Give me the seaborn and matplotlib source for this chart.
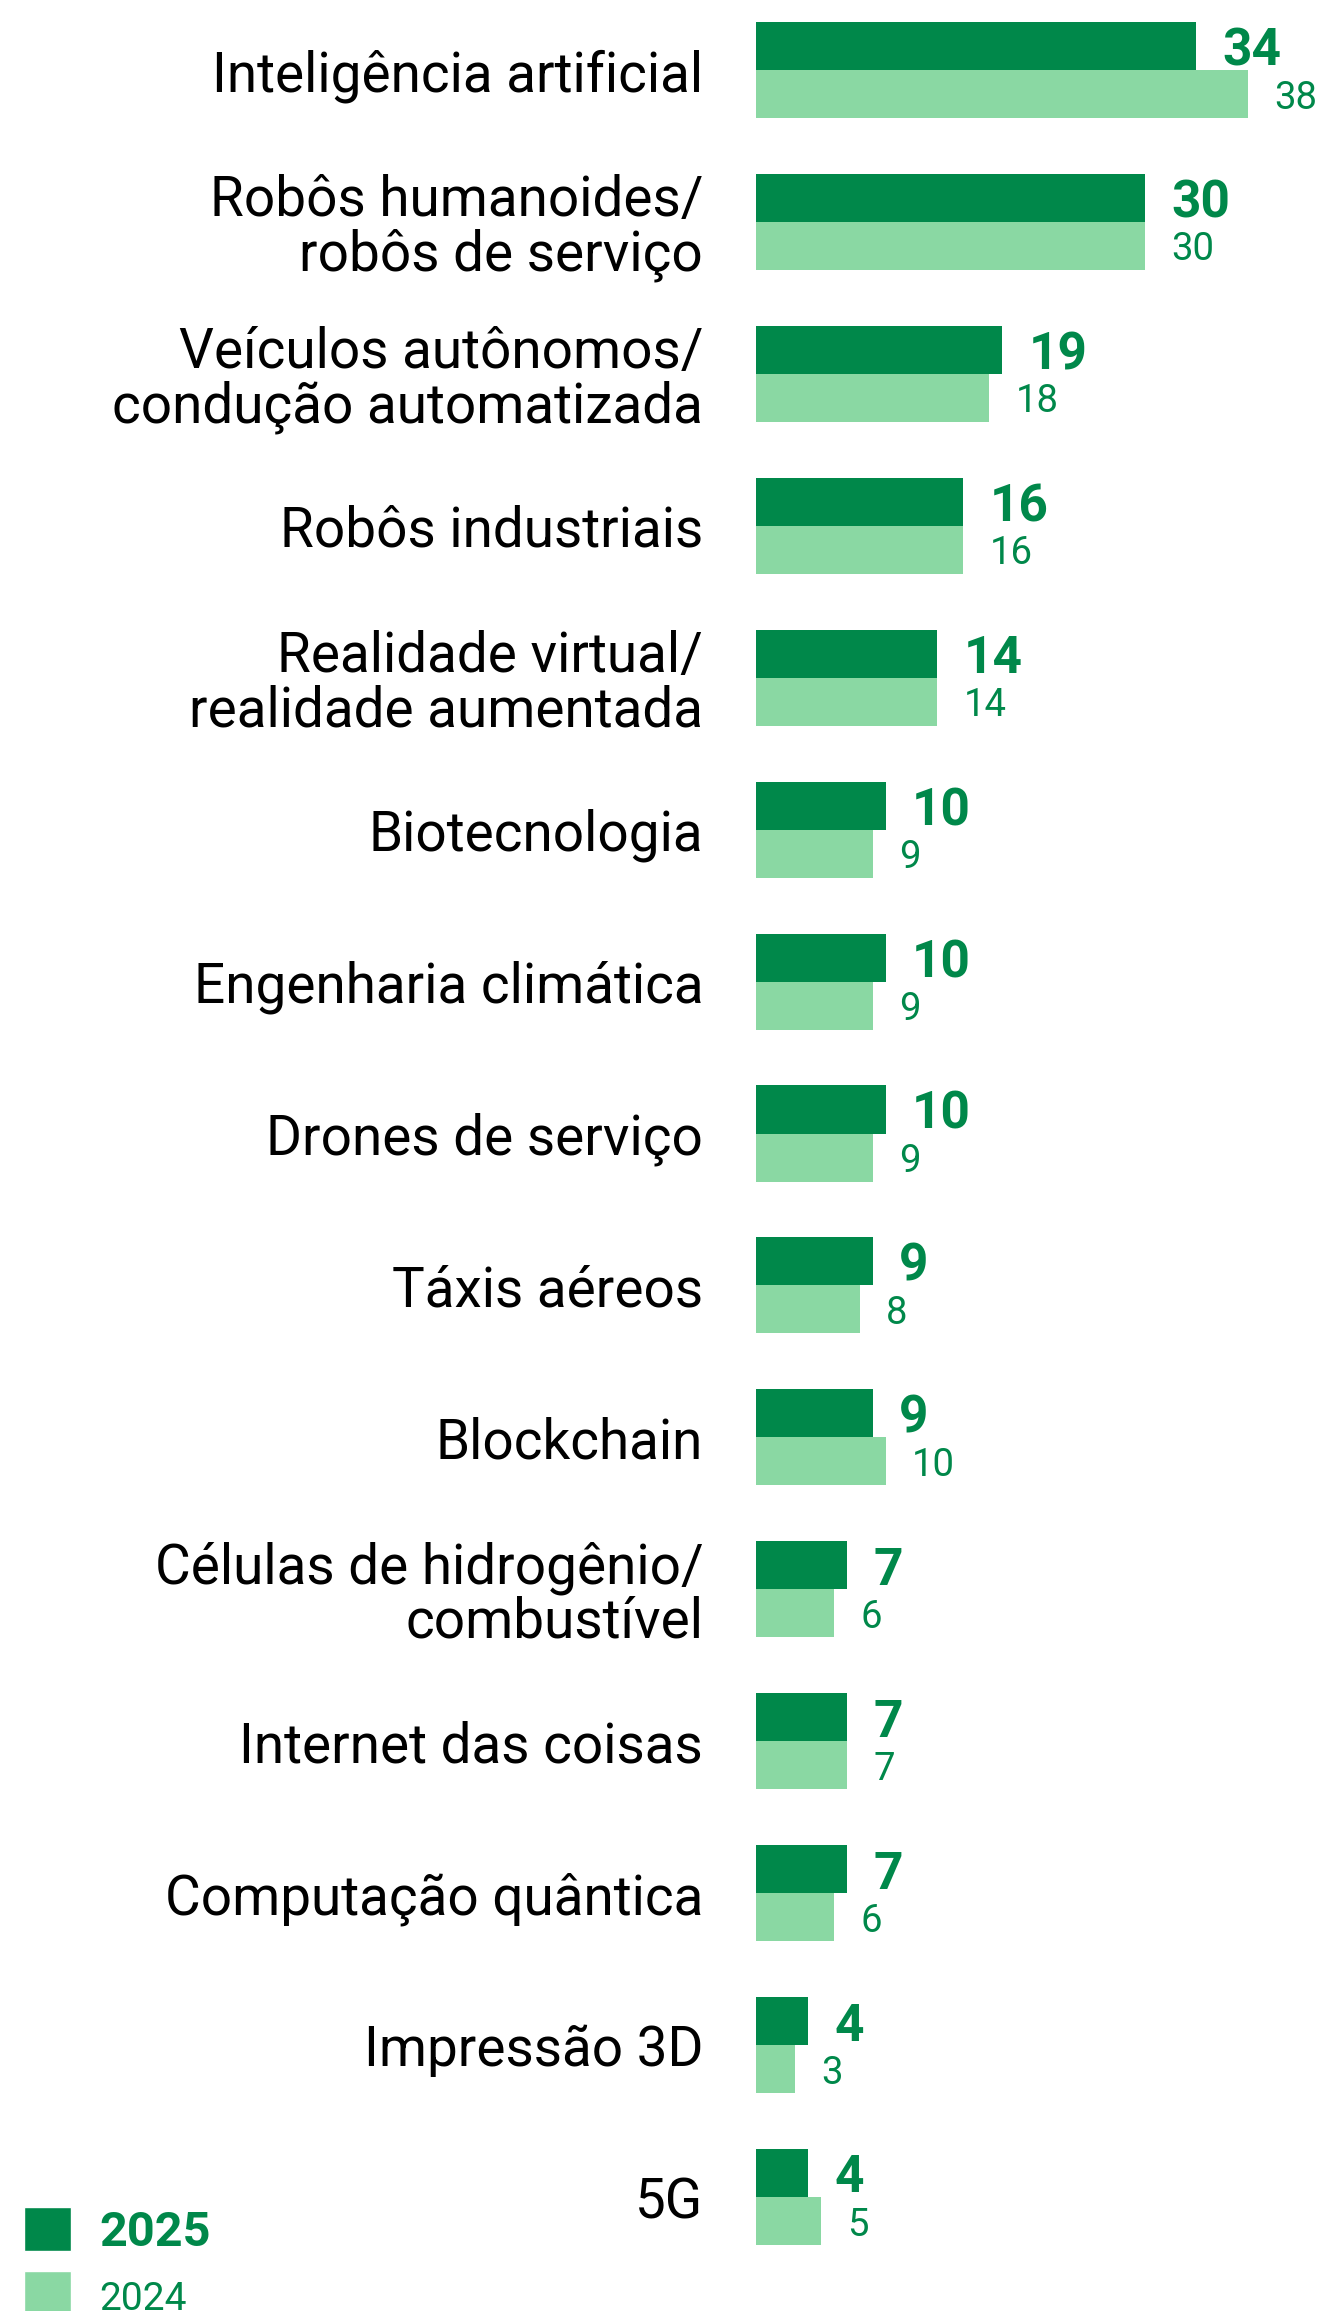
import matplotlib
matplotlib.use("Agg")
import matplotlib.pyplot as plt
import seaborn as sns
import pandas as pd
from matplotlib.patches import Patch

categories = [
    "Inteligência artificial",
    "Robôs humanoides/\nrobôs de serviço",
    "Veículos autônomos/\ncondução automatizada",
    "Robôs industriais",
    "Realidade virtual/\nrealidade aumentada",
    "Biotecnologia",
    "Engenharia climática",
    "Drones de serviço",
    "Táxis aéreos",
    "Blockchain",
    "Células de hidrogênio/\ncombustível",
    "Internet das coisas",
    "Computação quântica",
    "Impressão 3D",
    "5G",
]
values_2025 = [34, 30, 19, 16, 14, 10, 10, 10, 9, 9, 7, 7, 7, 4, 4]
values_2024 = [38, 30, 18, 16, 14, 9, 9, 9, 8, 10, 6, 7, 6, 3, 5]
years = ["2025", "2024"]

DARK = "#00884A"
LIGHT = "#8AD8A3"

sns.set_theme(style="white")
plt.rcParams["font.family"] = ["Roboto", "DejaVu Sans"]

df = pd.DataFrame({
    "cat": categories * 2,
    "year": [years[0]] * len(categories) + [years[1]] * len(categories),
    "val": values_2025 + values_2024,
})

W, H = 1323, 2311
fig = plt.figure(figsize=(W / 100, H / 100), dpi=100)
left = 756 / W
ax = fig.add_axes([left, 0, 1 - left, 1])

sns.barplot(data=df, y="cat", x="val", hue="year", hue_order=years,
            palette=[DARK, LIGHT], orient="h", width=0.632, ax=ax,
            legend=False, saturation=1, errorbar=None, linewidth=0)

px_per_unit = 12.95
ax.set_xlim(0, (W - 756) / px_per_unit)
row = 151.93
ax.set_ylim(14 + (H - 2197) / row, -70 / row)

for s in ax.spines.values():
    s.set_visible(False)
ax.set_xticks([])
ax.set_xlabel("")
ax.set_ylabel("")
ax.tick_params(axis="y", length=0, pad=38, labelsize=39.5, labelcolor="black")
for t in ax.get_yticklabels():
    t.set_linespacing(1.02)
    t.set_horizontalalignment("right")
    t.set_verticalalignment("center_baseline")

lab1 = ax.bar_label(ax.containers[0], fmt="%d", padding=19, fontsize=37,
                    fontweight="bold", color=DARK)
lab2 = ax.bar_label(ax.containers[1], fmt="%d", padding=19, fontsize=27.5,
                    color=DARK)
for t in list(lab1) + list(lab2):
    t.set_verticalalignment("center_baseline")

fs = 35
fpx = fs * 100 / 72
handles = [Patch(facecolor=DARK, label=years[0]), Patch(facecolor=LIGHT, label=years[1])]
leg = fig.legend(handles=handles, loc="upper left",
                 bbox_to_anchor=(24 / W, 1 - 2207 / H),
                 frameon=False, fontsize=fs, borderpad=0, borderaxespad=0,
                 handlelength=47 / fpx, handleheight=49 / fpx,
                 handletextpad=28 / fpx, labelspacing=0.32)
leg.get_texts()[0].set_fontweight("bold")
leg.get_texts()[0].set_color(DARK)
leg.get_texts()[1].set_fontsize(28)
leg.get_texts()[1].set_color(DARK)

fig.savefig("out.png", dpi=100)
